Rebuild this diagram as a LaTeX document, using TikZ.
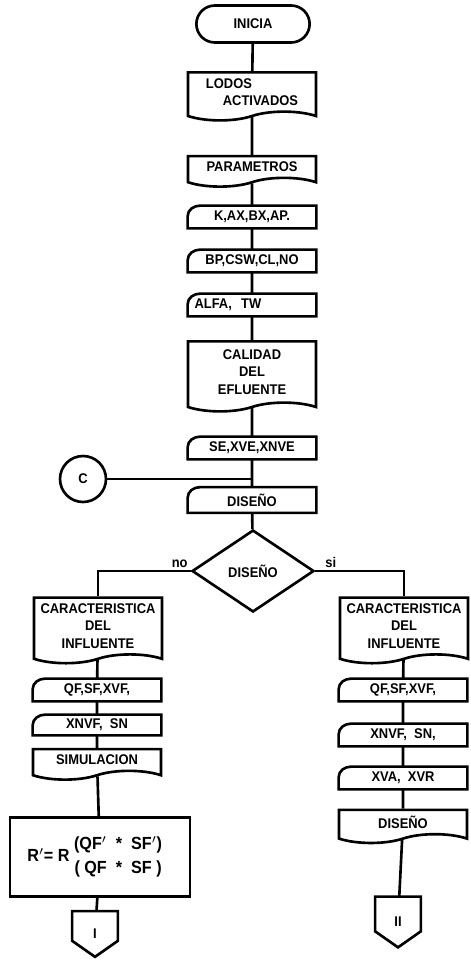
\documentclass[tikz,border=0pt]{standalone}
\usepackage{fontspec}
\setmainfont{Liberation Sans}[FakeStretch=0.92]
\usepackage{tikz}
\usetikzlibrary{shapes.geometric,shapes.misc,shapes.symbols,calc}

\tikzset{
  line/.style={line width=1.5pt},
  terminal/.style={rounded rectangle, draw, line width=1.5pt, minimum width=2.5cm, minimum height=0.74cm},
  docu/.style={tape, tape bend top=none, tape bend bottom=in and out, tape bend height=5pt, draw, line width=1.5pt, minimum width=2.56cm, align=center},
  card/.style={rectangle, minimum width=2.56cm, minimum height=0.44cm, inner xsep=0.13cm, inner ysep=1pt,
    append after command={\pgfextra{\draw[line width=1.5pt] (\tikzlastnode.north east) -- (\tikzlastnode.south east) -- (\tikzlastnode.south west) -- ([yshift=-6pt]\tikzlastnode.north west) to[out=90,in=180] ([xshift=7pt]\tikzlastnode.north west) -- cycle;}}},
  decision/.style={diamond, draw, line width=1.5pt, minimum width=2.44cm, minimum height=1.64cm, inner sep=0pt},
  connector/.style={circle, draw, line width=1.5pt, minimum size=0.92cm, inner sep=0pt},
  process/.style={rectangle, draw, line width=1.5pt, minimum width=3.6cm, minimum height=1.58cm},
  offpage/.style={rectangle, minimum width=0.9cm, minimum height=0.9cm, inner sep=0pt,
    append after command={\pgfextra{\draw[line width=1.5pt] (\tikzlastnode.north west) -- (\tikzlastnode.north east) -- ([yshift=0.32cm]\tikzlastnode.south east) -- (\tikzlastnode.south) -- ([yshift=0.32cm]\tikzlastnode.south west) -- cycle;}}},
  every node/.style={font=\fontsize{8}{10}\selectfont\bfseries}
}

\begin{document}
\begin{tikzpicture}[x=0.02cm, y=-0.02cm]
\useasboundingbox (0,0) rectangle (470,960);

% central column
\node[terminal] (inicia) at (253,24) {INICIA};
\node[docu, minimum height=0.95cm, align=left] (lodos) at (252,92) {LODOS\\\hspace*{1.2em}ACTIVADOS};
\node[docu, minimum height=0.55cm] (param) at (252,167) {PARAMETROS};
\node[card] (kax) at (252,217) {K,AX,BX,AP.};
\node[card] (bpc) at (252,261) {BP,CSW,CL,NO};
\node[card, text width=2.3cm, align=left] (alfa) at (252,305) {ALFA,\ \ TW};
\node[docu, minimum height=1.4cm] (calidad) at (252,372) {CALIDAD\\DEL\\EFLUENTE};
\node[card] (sexve) at (252,448) {SE,XVE,XNVE};
\node[card, minimum height=0.5cm] (disc) at (252,500) {DISEÑO};
\node[decision] (dec) at (253,571) {DISEÑO};
\node[connector] (c) at (83,479) {C};

% rama no
\node[docu, minimum height=1.25cm] (infl) at (98,626) {CARACTERISTICA\\DEL\\INFLUENTE};
\node[card] (lqf) at (97,690) {QF,SF,XVF,};
\node[card, minimum height=0.4cm] (lxn) at (97,725) {XNVF,\ \ SN};
\node[docu, minimum height=0.5cm] (sim) at (97,760) {SIMULACION};
\node[process, font=\fontsize{10}{13.5}\selectfont\bfseries] (rel) at (100,857) {R$'$= R \begin{tabular}{@{}c@{}}(QF$'$\ \ *\ \ SF$'$)\\(\ QF\ \ *\ \ SF\ )\end{tabular}\hspace*{0.6em}};
\node[offpage] (pi) at (95,934) {I};

% rama si
\node[docu, minimum height=1.25cm] (infr) at (404,626) {CARACTERISTICA\\DEL\\INFLUENTE};
\node[card] (rqf) at (403,690) {QF,SF,XVF,};
\node[card] (rxn) at (403,735) {XNVF,\ \ SN,};
\node[card] (rxv) at (403,778) {XVA,\ \ XVR};
\node[docu, minimum height=0.5cm] (rdis) at (403,822) {DISEÑO};
\node[offpage, minimum height=1.0cm] (pii) at (398,922) {II};

% lineas
\draw[line] (inicia) -- (lodos) -- (param) -- (kax) -- (bpc) -- (alfa) -- (calidad) -- (sexve) -- (disc) -- (dec);
\draw[line] (c) -- (c -| sexve);
\draw[line] (dec.west) node[above left, inner sep=1pt] {no} -| (infl.north);
\draw[line] (dec.east) node[above right, inner sep=1pt, xshift=4pt] {si} -| (infr.north);
\draw[line] (infl) -- (lqf) -- (lxn) -- (sim) -- (rel) -- (pi);
\draw[line] (infr) -- (rqf) -- (rxn) -- (rxv) -- (rdis) -- (pii);

\end{tikzpicture}
\end{document}
